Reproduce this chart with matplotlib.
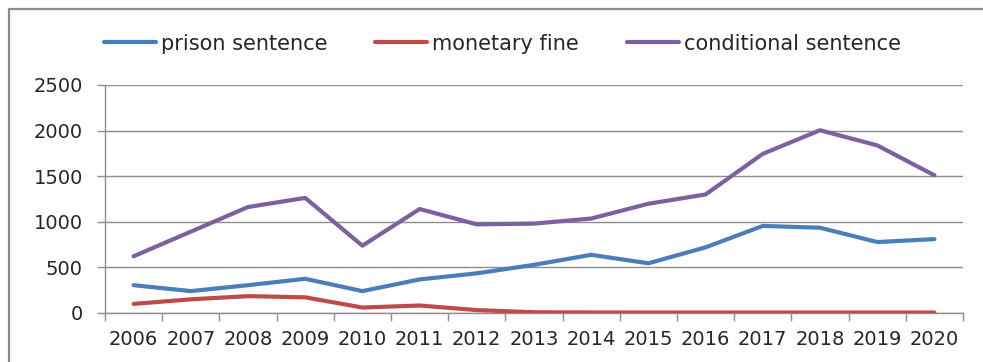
import matplotlib
matplotlib.use("Agg")
import matplotlib.pyplot as plt
from matplotlib.lines import Line2D
from matplotlib.ticker import FixedLocator

years = ["2006", "2007", "2008", "2009", "2010", "2011", "2012", "2013",
         "2014", "2015", "2016", "2017", "2018", "2019", "2020"]
prison_sentence = [305, 240, 305, 375, 240, 368, 435, 528, 638, 545, 720, 955, 935, 778, 810]
monetary_fine = [100, 150, 185, 172, 60, 82, 32, 8, 6, 5, 5, 5, 5, 5, 5]
conditional_sentence = [622, 892, 1162, 1262, 738, 1140, 972, 980, 1036, 1198, 1300, 1745, 2004, 1838, 1510]
y_ticks = [0, 500, 1000, 1500, 2000, 2500]

W, H = 983, 362
fig = plt.figure(figsize=(W / 100, H / 100), dpi=100)
fig.patch.set_facecolor("white")

# outer chart frame: left and top edges as one polyline
fig.add_artist(Line2D([9 / W, 9 / W, 1.0], [0, 1 - 9 / H, 1 - 9 / H],
                      transform=fig.transFigure, color="#8c8c8c", linewidth=1.6,
                      solid_capstyle="butt"))

ax = fig.add_axes([105 / W, (H - 313) / H, (963 - 105) / W, (313 - 85) / H])
x = list(range(len(years)))
text_color = "#262626"
grid_color = "#8e8e8e"

series = [
    ("prison sentence", prison_sentence, "#4a7ebb"),
    ("monetary fine", monetary_fine, "#be4b48"),
    ("conditional sentence", conditional_sentence, "#7d60a0"),
]
for label, vals, col in series:
    ax.plot(x, vals, color=col, linewidth=3.0, label=label, solid_capstyle="round",
            solid_joinstyle="round", zorder=3)

ax.set_xlim(-0.5, len(years) - 0.5)
ax.set_ylim(0, 2500)
ax.set_yticks(y_ticks)
ax.set_xticks(x)
ax.set_xticklabels(years)
ax.xaxis.set_minor_locator(FixedLocator([i - 0.5 for i in range(len(years) + 1)]))

for s in ["top", "right"]:
    ax.spines[s].set_visible(False)
for s in ["left", "bottom"]:
    ax.spines[s].set_color(grid_color)
    ax.spines[s].set_linewidth(1.0)

ax.yaxis.grid(True, color=grid_color, linewidth=1.0)
ax.set_axisbelow(True)

ax.tick_params(axis="x", which="major", length=0, pad=12, labelsize=14, labelcolor=text_color)
ax.tick_params(axis="x", which="minor", length=6, width=1.0, color=grid_color, direction="out")
ax.tick_params(axis="y", which="major", length=6, width=1.0, color=grid_color, pad=10,
               labelsize=14, labelcolor=text_color)

leg = fig.legend(loc="upper left", bbox_to_anchor=(85 / W, 1 - 15 / H), ncol=3, frameon=False,
                 fontsize=15, handlelength=2.5, handletextpad=0.24, columnspacing=2.3,
                 labelcolor=text_color)

fig.savefig("out.png", dpi=100, facecolor="white")
